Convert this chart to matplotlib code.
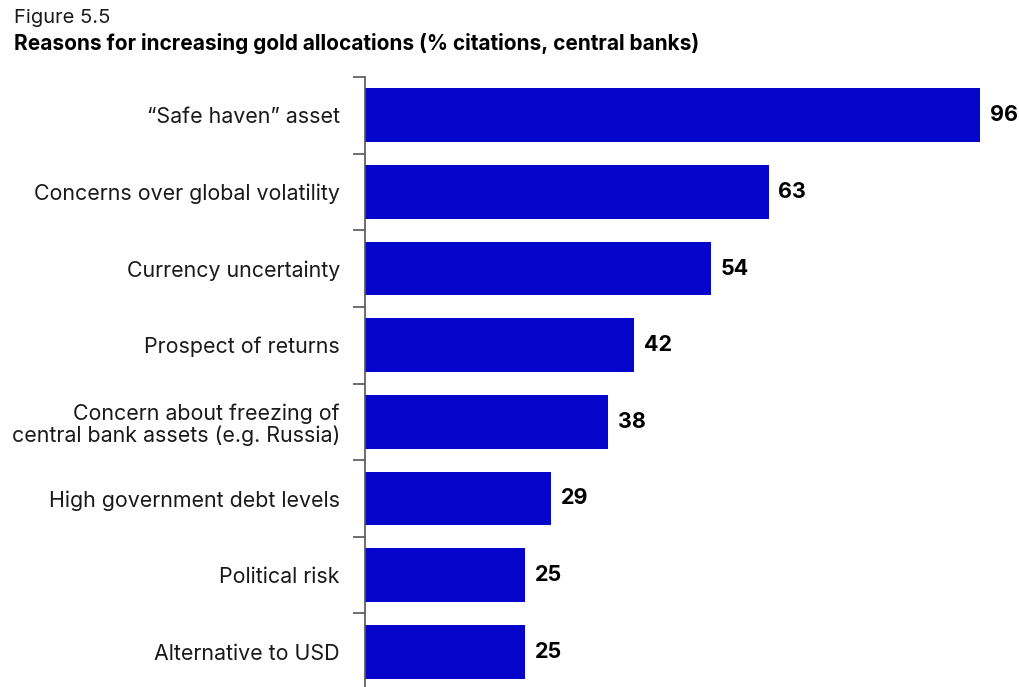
import matplotlib
matplotlib.use("Agg")
import matplotlib.pyplot as plt
from matplotlib.ticker import FixedLocator

categories = [
    "\u201cSafe haven\u201d asset",
    "Concerns over global volatility",
    "Currency uncertainty",
    "Prospect of returns",
    "Concern about freezing of\ncentral bank assets (e.g. Russia)",
    "High government debt levels",
    "Political risk",
    "Alternative to USD",
]
values = [96, 63, 54, 42, 38, 29, 25, 25]

plt.rcParams['font.family'] = ['Inter', 'DejaVu Sans']

W, H = 1020, 687
fig = plt.figure(figsize=(W / 100, H / 100), dpi=100)
ax = fig.add_axes([365 / W, 0, 615 / W, 610 / H])

bar_color = '#0505CC'
ypos = list(range(len(categories)))
ax.barh(ypos, values, height=0.70, color=bar_color)
ax.set_xlim(0, 96)
ax.set_ylim(7.46, -0.5)

for y, v in zip(ypos, values):
    ax.annotate(str(v), (v, y), xytext=(7, 0), textcoords='offset points',
                ha='left', va='center', fontsize=15.5, fontweight='bold',
                color='black', annotation_clip=False)

for s in ['top', 'right', 'bottom']:
    ax.spines[s].set_visible(False)
ax.spines['left'].set_color('#555555')
ax.spines['left'].set_linewidth(1.2)
ax.set_xticks([])
ax.set_yticks(ypos)
ax.set_yticklabels(categories, fontsize=15.4, color='#1a1a1a', ha='right', linespacing=1.12)
ax.tick_params(axis='y', which='major', length=0, pad=18)
ax.yaxis.set_minor_locator(FixedLocator([i - 0.5 for i in range(len(categories) + 1)]))
ax.tick_params(axis='y', which='minor', length=9, width=1.2, color='#555555')

fig.text(14 / W, 1 - 18 / H, "Figure 5.5", fontsize=14.5, ha='left', va='center', color='#1a1a1a')
fig.text(14 / W, 1 - 44 / H, "Reasons for increasing gold allocations (% citations, central banks)",
         fontsize=15, fontweight='bold', ha='left', va='center', color='black')

fig.savefig("out.png", dpi=100)
